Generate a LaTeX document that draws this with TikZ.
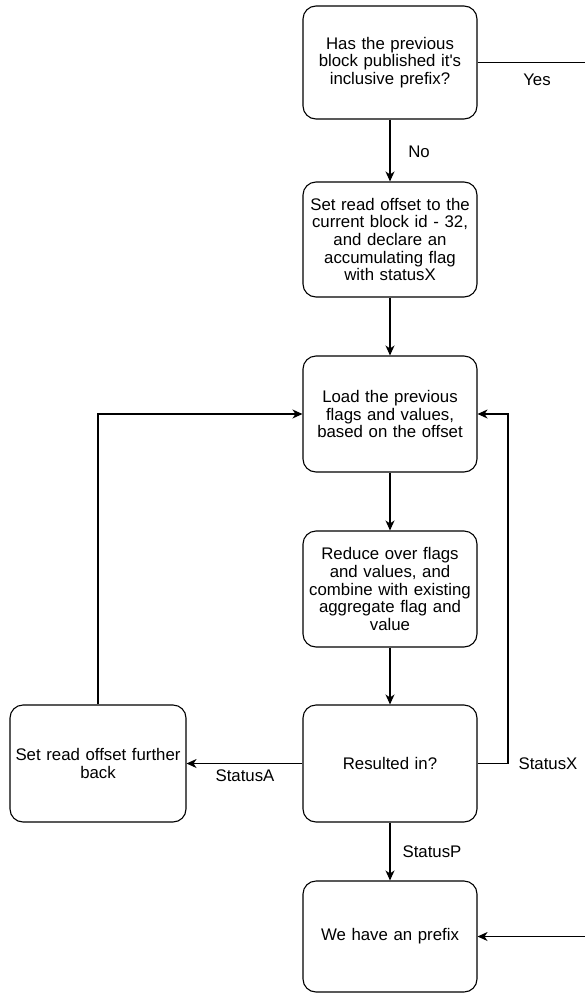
\documentclass[tikz,border=0pt]{standalone}
\usepackage{fontspec}
\setmainfont{Liberation Sans}
\usetikzlibrary{arrows.meta, positioning}
\tikzset{
    stepbox/.style={rectangle, draw, line width=1.1pt, rounded corners=13pt, minimum width=174pt, text width=172pt, align=center, font=\fontsize{16.8}{17.6}\selectfont, inner sep=1pt},
    line/.style={draw, line width=1.1pt, -{Stealth[length=10pt, width=9pt, inset=3pt]}},
    wire/.style={draw, line width=1.1pt},
    edgelabel/.style={font=\fontsize{16.8}{17.6}\selectfont, inner sep=1pt}
}
\begin{document}
\begin{tikzpicture}[x=1pt, y=-1pt]
    \useasboundingbox (0,0) rectangle (585,996);

    % --- BOXES ---
    \node[stepbox, minimum height=113pt] (prevpub) at (390, 62.5) {Has the previous\\ block published it\textquotesingle s\\ inclusive prefix?};
    \node[stepbox, minimum height=115pt] (setoff) at (390, 239.5) {Set read offset to the\\ current block id - 32,\\ and declare an\\ accumulating flag\\ with statusX};
    \node[stepbox, minimum height=116pt] (load) at (390, 414) {Load the previous\\ flags and values,\\ based on the offset};
    \node[stepbox, minimum height=116pt] (reduce) at (390, 589) {Reduce over flags\\ and values, and\\ combine with existing\\ aggregate flag and\\ value};
    \node[stepbox, minimum height=117pt] (result) at (390, 763.5) {Resulted in?};
    \node[stepbox, minimum height=117pt, minimum width=176pt, text width=174pt] (further) at (98, 763.5) {Set read offset further\\ back};
    \node[stepbox, minimum height=111pt] (prefix) at (390, 936.5) {We have an prefix};

    % Free ends at the right edge
    \coordinate (yesend) at (585, 62.5);
    \coordinate (pin) at (585, 936.5);
    \coordinate (xbend) at (508, 763.5);

    % --- CONNECTORS ---
    \draw[wire] (prevpub.east) -- (yesend);
    \draw[line] (prevpub) -- (setoff);
    \draw[line] (setoff) -- (load);
    \draw[line] (load) -- (reduce);
    \draw[line] (reduce) -- (result);
    \draw[line] (result) -- (further);
    \draw[line] (result.east) -- (xbend) |- (load.east);
    \draw[line] (further.north) |- (load.west);
    \draw[line] (result) -- (prefix);
    \draw[line] (pin) -- (prefix.east);

    % Labels
    \node[edgelabel] (lblyes) at (537, 80) {Yes};
    \node[edgelabel] (lblno) at (419, 152) {No};
    \node[edgelabel] (lbla) at (245, 776) {StatusA};
    \node[edgelabel] (lblx) at (548, 764) {StatusX};
    \node[edgelabel] (lblp) at (432, 852) {StatusP};

\end{tikzpicture}
\end{document}
